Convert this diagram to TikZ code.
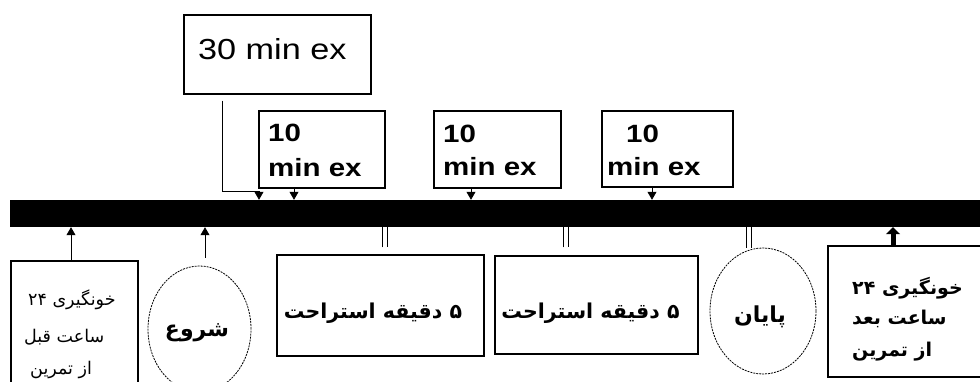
\documentclass[tikz,border=0pt]{standalone}
\usepackage{fontspec}
\setmainfont{Liberation Sans}
\newfontfamily\latinx[FakeStretch=1.18]{Liberation Sans}
\newfontfamily\arabicfont[Script=Arabic]{DejaVu Sans}
\TeXXeTstate=1
\usetikzlibrary{arrows.meta,shapes.geometric}
\begin{document}
\begin{tikzpicture}[x=1pt,y=-1pt,
  box/.style={draw, line width=1.2pt, inner sep=0pt},
  oval/.style={draw, ellipse, line width=0.8pt, dash pattern=on 2pt off 1pt, inner sep=0pt},
  txt/.style={inner sep=0pt},
  bigfont/.style={font=\latinx\fontsize{29}{34}\selectfont},
  tenfont/.style={font=\latinx\bfseries\fontsize{25}{30}\selectfont},
  arfont/.style={font=\arabicfont\fontsize{17.5}{20}\selectfont},
  arbold/.style={font=\arabicfont\bfseries\fontsize{19}{22}\selectfont},
  restfont/.style={font=\arabicfont\bfseries\fontsize{20.5}{24}\selectfont},
  ovalfont/.style={font=\arabicfont\bfseries\fontsize{22}{26}\selectfont},
  arr/.style={line width=0.8pt, -{Triangle[width=9pt,length=8pt]}},
  hollow/.style={double, double distance=3.5pt, line width=0.8pt}]
\useasboundingbox (0,0) rectangle (980,382);
\fill[white] (0,0) rectangle (980,382);

% timeline bar
\node[fill=black, minimum width=970pt, minimum height=27pt, inner sep=0pt] (bar) at (495,213.5) {};

% upper boxes
\node[box, minimum width=187pt, minimum height=79pt] (b30) at (277.5,54.5) {};
\node[txt, bigfont, anchor=base west] (t30) at (198,60) {30 min ex};

\node[box, minimum width=126pt, minimum height=77pt] (b10a) at (322,149.5) {};
\node[txt, tenfont, anchor=base west] (t10a1) at (268,142) {10};
\node[txt, tenfont, anchor=base west] (t10a2) at (268,177) {min ex};

\node[box, minimum width=127pt, minimum height=77pt] (b10b) at (497.5,149.5) {};
\node[txt, tenfont, anchor=base west] (t10b1) at (443,143) {10};
\node[txt, tenfont, anchor=base west] (t10b2) at (443,176) {min ex};

\node[box, minimum width=131pt, minimum height=76pt] (b10c) at (667.5,149) {};
\node[txt, tenfont, anchor=base west] (t10c1) at (626,143) {10};
\node[txt, tenfont, anchor=base west] (t10c2) at (607,176) {min ex};

% lower shapes
\node[box, minimum width=127pt, minimum height=131pt] (bl) at (74.5,326.5) {};
\node[txt, arfont, anchor=west] (bl1) at (28,300) {\beginR خونگیری ۲۴\endR};
\node[txt, arfont, anchor=west] (bl2) at (24,337) {\beginR ساعت قبل\endR};
\node[txt, arfont, anchor=west] (bl3) at (30,370) {\beginR از تمرین\endR};

\node[oval, minimum width=103pt, minimum height=126pt] (c1) at (199.5,329) {};
\node[txt, ovalfont] (c1t) at (197,333) {\beginR شروع\endR};

\node[box, minimum width=207pt, minimum height=101pt] (bA) at (380.5,305.5) {};
\node[txt, restfont] (bAt) at (373,313) {\beginR ۵ دقیقه استراحت\endR};

\node[box, minimum width=203pt, minimum height=98pt] (bB) at (596.5,305) {};
\node[txt, restfont] (bBt) at (590.5,313) {\beginR ۵ دقیقه استراحت\endR};

\node[oval, minimum width=106pt, minimum height=126pt] (c2) at (763,311) {};
\node[txt, ovalfont] (c2t) at (760,317) {\beginR پایان\endR};

\node[box, minimum width=172pt, minimum height=131pt] (bR) at (914,311.5) {};
\node[txt, arbold, anchor=west] (bR1) at (852,288) {\beginR خونگیری ۲۴\endR};
\node[txt, arbold, anchor=west] (bR2) at (852,319) {\beginR ساعت بعد\endR};
\node[txt, arbold, anchor=west] (bR3) at (852,352) {\beginR از تمرین\endR};

% connectors from upper boxes
\coordinate (k30) at (259,191);
\draw[arr] ([xshift=-55.5pt,yshift=-6pt]b30.south) |- (k30) -- (k30 |- bar.north);
\draw[arr] ([xshift=-28pt]b10a.south) -- ([xshift=-28pt]b10a.south |- bar.north);
\draw[arr] ([xshift=-26.5pt]b10b.south) -- ([xshift=-26.5pt]b10b.south |- bar.north);
\draw[arr] ([xshift=-15.5pt]b10c.south) -- ([xshift=-15.5pt]b10c.south |- bar.north);

% connectors from lower shapes
\draw[arr] ([xshift=-3.5pt]bl.north) -- ([xshift=-3.5pt]bl.north |- bar.south);
\draw[arr] ([xshift=5.5pt,yshift=8pt]c1.north) -- ([xshift=5.5pt]c1.north |- bar.south);
\draw[hollow] ([xshift=4.5pt,yshift=7pt]bA.north) -- ([xshift=4.5pt]bA.north |- bar.south);
\draw[hollow] ([xshift=-30.5pt,yshift=8pt]bB.north) -- ([xshift=-30.5pt]bB.north |- bar.south);
\draw[hollow] ([xshift=-14pt]c2.north) -- ([xshift=-14pt]c2.north |- bar.south);
\draw[line width=5pt, -{Triangle[width=14pt,length=7pt]}] ([xshift=-21pt]bR.north) -- ([xshift=-21pt]bR.north |- bar.south);
\end{tikzpicture}
\end{document}
